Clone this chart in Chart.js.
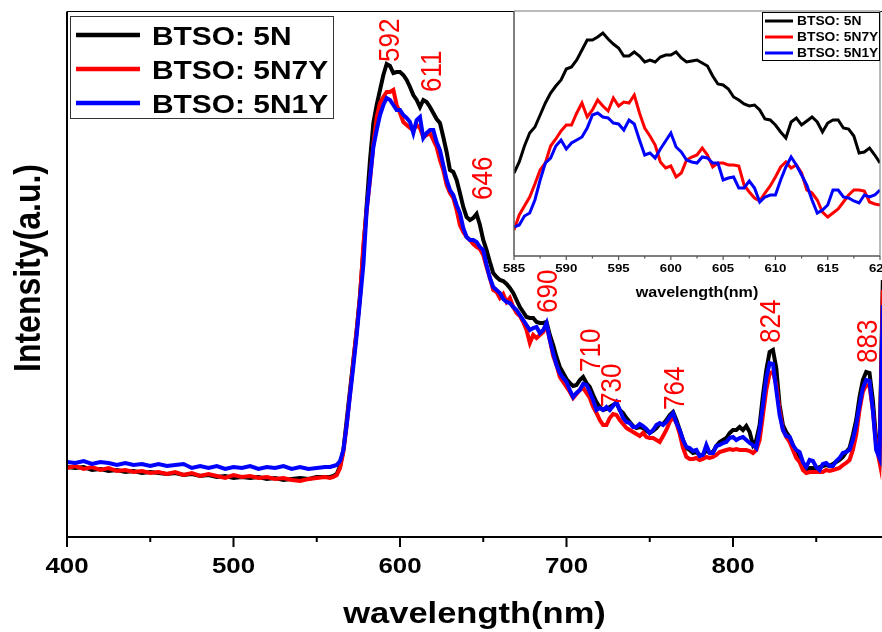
<!DOCTYPE html>
<html>
<head>
<meta charset="utf-8">
<script src="https://cdn.jsdelivr.net/npm/chart.js@4.4.0/dist/chart.umd.min.js"></script>
<style>
  html, body { margin: 0; padding: 0; background: #fff; }
  #wrap { position: relative; width: 882px; height: 632px; overflow: hidden; }
  #mainChart { position: absolute; left: 0; top: 0; }
  #insetChart { position: absolute; left: 500px; top: 0; }
</style>
</head>
<body>
<div id="wrap">
  <canvas id="mainChart" width="882" height="632"></canvas>
  <canvas id="insetChart" width="382" height="310"></canvas>
</div>
<script>
// ---- data (intensity in arbitrary units) ----
const seriesNames = ["BTSO: 5N", "BTSO: 5N7Y", "BTSO: 5N1Y"];
const seriesColors = ["#000000", "#ff0000", "#0000ff"];

const wavelengths = [
  400, 405, 410, 415, 420, 425, 430, 435, 440, 445, 450, 455, 460, 465, 470, 475,
  480, 485, 490, 495, 500, 505, 510, 515, 520, 525, 530, 535, 540, 545, 550, 555,
  558, 560, 562, 564, 566, 568, 570, 572, 574, 576,
  578, 580, 582, 584, 586, 588, 590, 592, 594, 596,
  598, 600, 602, 604, 606, 608, 610, 612, 614, 616,
  618, 620, 622, 624, 626, 628, 630, 632, 634, 636,
  638, 640, 642, 644, 646, 648, 650, 652, 654, 656,
  658, 660, 662, 664, 666, 668, 670, 672, 674, 676,
  678, 680, 682, 684, 686, 688, 690, 692, 694, 696,
  698, 700, 702, 704, 706, 708, 710, 712, 714, 716,
  718, 720, 722, 724, 726, 728, 730, 732, 734, 736,
  738, 740, 742, 744, 746, 748, 750, 752, 754, 756,
  758, 760, 762, 764, 766, 768, 770, 772, 774, 776,
  778, 780, 782, 784, 786, 788, 790, 792, 794, 796,
  798, 800, 802, 804, 806, 808, 810, 812, 814, 816,
  818, 820, 822, 824, 826, 828, 830, 832, 834, 836,
  838, 840, 842, 844, 846, 848, 850, 852, 854, 856,
  858, 860, 862, 864, 866, 868, 870, 872, 874, 876,
  878, 880, 882, 884, 886, 888, 890
];

const int5N = [
  70, 69, 70, 67, 68, 66, 67, 65, 66, 64, 65, 64, 63, 64, 62, 63,
  61, 62, 60, 61, 59, 60, 59, 60, 58, 59, 57, 58, 59, 58, 60, 60,
  60, 61, 63, 71, 87, 117, 147, 177, 207, 242,
  287, 332, 377, 414, 432, 447, 462, 473, 471, 464,
  465, 465, 462, 457, 450, 442, 437, 430, 437, 435,
  430, 424, 418, 414, 400, 385, 367, 365, 357, 344,
  330, 320, 317, 319, 323, 312, 297, 287, 275, 264,
  260, 257, 256, 253, 249, 244, 237, 230, 225, 220,
  219, 219, 215, 214, 214, 215, 202, 192, 180, 170,
  164, 158, 154, 151, 152, 157, 160, 154, 150, 142,
  135, 130, 127, 128, 130, 132, 134, 127, 124, 119,
  115, 111, 109, 110, 109, 106, 104, 106, 109, 113,
  113, 117, 122, 125, 117, 107, 97, 89, 87, 84,
  85, 82, 82, 87, 84, 85, 91, 95, 97, 99,
  104, 107, 107, 110, 107, 111, 105, 92, 97, 112,
  142, 167, 185, 187, 169, 132, 112, 105, 100, 92,
  85, 81, 72, 67, 69, 69, 68, 70, 71, 72,
  71, 73, 75, 77, 80, 85, 89, 102, 117, 140,
  157, 165, 164, 137, 97, 82, 257
];

const int5N7Y = [
  69, 71, 68, 70, 67, 69, 66, 67, 65, 66, 64, 65, 63, 65, 62, 64,
  61, 63, 61, 59, 62, 60, 61, 59, 60, 58, 59, 57, 56, 58, 59, 60,
  59, 60, 62, 69, 85, 112, 144, 175, 207, 240,
  292, 327, 357, 392, 420, 434, 440, 445, 445, 447,
  432, 424, 415, 412, 409, 407, 412, 409, 400, 402,
  404, 397, 390, 377, 367, 352, 344, 339, 327, 312,
  305, 300, 297, 293, 290, 288, 282, 270, 259, 247,
  245, 239, 243, 235, 239, 230, 224, 221, 215, 207,
  194, 202, 199, 202, 205, 212, 197, 181, 172, 160,
  155, 150, 145, 139, 143, 147, 149, 144, 139, 130,
  124, 117, 112, 112, 119, 123, 122, 117, 113, 109,
  107, 105, 103, 101, 104, 100, 99, 99, 97, 95,
  101, 107, 115, 120, 114, 103, 89, 80, 78, 78,
  79, 77, 78, 80, 79, 80, 82, 85, 86, 87,
  88, 87, 88, 87, 87, 87, 86, 84, 87, 97,
  122, 147, 164, 165, 152, 127, 107, 100, 95, 87,
  79, 75, 67, 64, 65, 65, 65, 65, 65, 67,
  66, 67, 68, 69, 72, 74, 77, 87, 102, 127,
  145, 152, 151, 127, 92, 75, 247
];

const int5N1Y = [
  75, 74, 76, 73, 75, 74, 72, 74, 72, 73, 71, 73, 71, 72, 73, 69,
  71, 69, 71, 68, 70, 69, 71, 68, 70, 69, 71, 68, 70, 68, 69, 70,
  70, 71, 72, 76, 87, 112, 142, 171, 202, 237,
  272, 327, 359, 390, 407, 422, 432, 439, 437, 432,
  427, 427, 422, 419, 415, 404, 417, 420, 399, 404,
  407, 407, 395, 387, 372, 357, 347, 342, 332, 324,
  309, 300, 297, 297, 295, 290, 287, 272, 259, 250,
  247, 244, 238, 235, 234, 230, 227, 222, 217, 212,
  207, 209, 210, 204, 207, 214, 197, 184, 172, 164,
  159, 155, 147, 140, 144, 147, 153, 152, 145, 137,
  127, 129, 127, 130, 127, 131, 135, 127, 119, 115,
  114, 110, 110, 113, 111, 108, 104, 107, 112, 114,
  112, 115, 120, 124, 114, 107, 97, 90, 89, 86,
  87, 81, 82, 92, 84, 84, 91, 92, 94, 95,
  99, 100, 97, 99, 100, 97, 94, 92, 89, 107,
  132, 159, 174, 173, 147, 122, 107, 101, 100, 92,
  87, 85, 75, 70, 77, 76, 70, 67, 73, 74,
  71, 71, 76, 79, 84, 85, 87, 97, 112, 132,
  149, 157, 156, 127, 87, 79, 232
];

// inset: zoom on the 585-620 nm band
const insetWavelengths = [
  585, 585.5, 586, 586.5, 587, 587.5, 588, 588.5, 589, 589.5,
  590, 590.5, 591, 591.5, 592, 592.5, 593, 593.5, 594, 594.5,
  595, 595.5, 596, 596.5, 597, 597.5, 598, 598.5, 599, 599.5,
  600, 600.5, 601, 601.5, 602, 602.5, 603, 603.5, 604, 604.5,
  605, 605.5, 606, 606.5, 607, 607.5, 608, 608.5, 609, 609.5,
  610, 610.5, 611, 611.5, 612, 612.5, 613, 613.5, 614, 614.5,
  615, 615.5, 616, 616.5, 617, 617.5, 618, 618.5, 619, 619.5, 620
];
const inset5N = [
  83, 94, 110, 123, 129, 141, 153, 163, 170, 176,
  187, 189, 196, 206, 216, 216, 219, 223, 217, 212,
  208, 200, 200, 204, 200, 194, 196, 194, 199, 201,
  201, 204, 198, 194, 195, 196, 193, 190, 180, 172,
  171, 167, 159, 156, 152, 150, 151, 146, 137, 136,
  131, 124, 118, 134, 138, 131, 135, 139, 134, 124,
  133, 136, 136, 128, 127, 120, 103, 104, 108, 101, 93
];
const inset5N7Y = [
  26, 41, 50, 59, 72, 86, 93, 110, 117, 125,
  131, 131, 143, 153, 139, 146, 156, 150, 145, 158,
  150, 154, 153, 161, 143, 128, 120, 111, 94, 88,
  90, 79, 83, 96, 99, 101, 108, 101, 89, 93,
  93, 91, 91, 90, 71, 64, 58, 55, 63, 70,
  79, 89, 94, 88, 91, 83, 66, 63, 56, 44,
  39, 43, 47, 54, 61, 66, 66, 65, 54, 52, 51
];
const inset5N1Y = [
  29, 31, 40, 43, 56, 76, 93, 98, 110, 116,
  107, 113, 116, 119, 128, 141, 143, 139, 138, 133,
  132, 126, 136, 132, 116, 101, 103, 98, 107, 115,
  123, 109, 104, 96, 94, 93, 99, 98, 93, 93,
  76, 78, 79, 68, 68, 75, 68, 54, 59, 61,
  61, 76, 89, 99, 91, 81, 71, 56, 43, 46,
  51, 66, 66, 59, 58, 55, 53, 61, 59, 61, 66
];

// peak annotations: label text and where the label sits (nm, intensity)
const peakLabels = ["592", "611", "646", "690", "710", "730", "764", "824", "883"];
const peakLabelX = [592.8, 618.0, 648.6, 687.7, 713.5, 726.1, 764.0, 821.6, 879.9];
const peakLabelY = [475, 445, 337, 224, 165, 130, 127, 194, 174];

const mainTicks = [400, 500, 600, 700, 800];
const insetTicks = [585, 590, 595, 600, 605, 610, 615, 620];

// ---- drawing helpers ----
const FONT = '"Liberation Sans", Arial, sans-serif';
const STRETCH = 1.15;

function drawText(ctx, text, x, y, opts) {
  ctx.save();
  ctx.translate(x, y);
  ctx.scale(STRETCH, 1);
  if (opts.rotate) ctx.rotate(opts.rotate);
  ctx.font = opts.font;
  ctx.fillStyle = opts.color || "#000";
  ctx.textAlign = opts.align || "left";
  ctx.textBaseline = "alphabetic";
  ctx.fillText(text, 0, 0);
  ctx.restore();
}

function line(ctx, x1, y1, x2, y2, color, width) {
  ctx.save();
  ctx.strokeStyle = color;
  ctx.lineWidth = width;
  ctx.beginPath();
  ctx.moveTo(x1, y1);
  ctx.lineTo(x2, y2);
  ctx.stroke();
  ctx.restore();
}

function toPoints(xs, ys) {
  return xs.map((x, i) => ({ x: x, y: ys[i] }));
}

function makeDatasets(xs, seriesList, width) {
  return seriesList.map((ys, i) => ({
    label: seriesNames[i],
    data: toPoints(xs, ys),
    borderColor: seriesColors[i],
    borderWidth: width,
    pointRadius: 0,
    tension: 0,
    fill: false,
    order: 3 - i,
  }));
}

// ---- main chart ----
const mainFrame = {
  id: "mainFrame",
  afterDraw(chart) {
    const ctx = chart.ctx;
    const a = chart.chartArea;
    const xs = chart.scales.x;
    const ys = chart.scales.y;

    // frame
    line(ctx, a.left, a.top - 0.5, a.left, a.bottom, "#000", 2);
    line(ctx, a.left - 1, a.bottom, a.right, a.bottom, "#000", 2);
    line(ctx, a.left, a.top - 0.5, a.right, a.top - 0.5, "#000", 1.2);

    // ticks
    for (let v = 400; v <= 850; v += 50) {
      const px = xs.getPixelForValue(v);
      const len = v % 100 === 0 ? 10 : 5;
      line(ctx, px, a.bottom, px, a.bottom + len, "#000", 2);
    }
    mainTicks.forEach((v) => {
      drawText(ctx, String(v), xs.getPixelForValue(v), 573, {
        font: "bold 22.5px " + FONT, align: "center",
      });
    });

    // axis titles
    drawText(ctx, "wavelength(nm)", (a.left + a.right) / 2, 623, {
      font: "bold 30px " + FONT, align: "center",
    });
    drawText(ctx, "Intensity(a.u.)", 40, 268, {
      font: "bold 32px " + FONT, align: "center", rotate: -Math.PI / 2,
    });

    // peak labels
    peakLabels.forEach((t, i) => {
      const px = xs.getPixelForValue(peakLabelX[i]);
      const py = ys.getPixelForValue(peakLabelY[i]);
      drawText(ctx, t, px + 10.7, py, {
        font: "26px " + FONT, color: "#ff0000", align: "left", rotate: -Math.PI / 2,
      });
    });

    // legend
    ctx.save();
    ctx.fillStyle = "#fff";
    ctx.fillRect(70.5, 16.5, 263, 102);
    ctx.strokeStyle = "#333";
    ctx.lineWidth = 1;
    ctx.strokeRect(70.5, 16.5, 263, 102);
    ctx.restore();
    seriesNames.forEach((name, i) => {
      const cy = 35 + i * 34;
      line(ctx, 76, cy, 140, cy, seriesColors[i], 4.5);
      drawText(ctx, name, 152, cy + 9.5, { font: "bold 26px " + FONT });
    });
  },
};

new Chart(document.getElementById("mainChart"), {
  type: "line",
  data: { datasets: makeDatasets(wavelengths, [int5N, int5N7Y, int5N1Y], 4) },
  options: {
    responsive: false,
    animation: false,
    devicePixelRatio: 1,
    layout: { padding: { left: 67, top: 12, right: 0, bottom: 95 } },
    plugins: { legend: { display: false }, tooltip: { enabled: false } },
    scales: {
      x: { type: "linear", min: 400, max: 889.5, display: false },
      y: { min: 0, max: 525, display: false },
    },
  },
  plugins: [mainFrame],
});

// ---- inset chart ----
const insetFrame = {
  id: "insetFrame",
  beforeDatasetsDraw(chart) {
    const ctx = chart.ctx;
    const a = chart.chartArea;
    ctx.save();
    ctx.fillStyle = "#fff";
    ctx.fillRect(a.left, a.top, a.right - a.left, a.bottom - a.top);
    ctx.restore();
  },
  afterDraw(chart) {
    const ctx = chart.ctx;
    const a = chart.chartArea;
    const xs = chart.scales.x;

    line(ctx, a.left, a.top, a.left, a.bottom, "#555", 1.5);
    line(ctx, a.left, a.bottom, a.right, a.bottom, "#555", 1.5);
    line(ctx, a.left, a.top, a.right, a.top, "#777", 1);
    line(ctx, a.right, a.top, a.right, a.bottom, "#777", 1);

    for (let v = 585; v <= 620; v += 2.5) {
      const px = xs.getPixelForValue(v);
      const len = v % 5 === 0 ? 4 : 2.5;
      line(ctx, px, a.bottom, px, a.bottom + len, "#555", 1.2);
    }
    insetTicks.forEach((v) => {
      drawText(ctx, String(v), xs.getPixelForValue(v), 272, {
        font: "bold 11.5px " + FONT, align: "center",
      });
    });
    drawText(ctx, "wavelength(nm)", (a.left + a.right) / 2, 297, {
      font: "bold 14px " + FONT, align: "center",
    });

    // legend
    ctx.save();
    ctx.fillStyle = "#fff";
    ctx.fillRect(262.5, 12.5, 117, 48);
    ctx.strokeStyle = "#000";
    ctx.lineWidth = 1;
    ctx.strokeRect(262.5, 12.5, 117, 48);
    ctx.restore();
    seriesNames.forEach((name, i) => {
      const cy = 21 + i * 16;
      line(ctx, 265, cy, 293, cy, seriesColors[i], 3);
      drawText(ctx, name, 297, cy + 4.3, { font: "bold 12px " + FONT });
    });
  },
};

new Chart(document.getElementById("insetChart"), {
  type: "line",
  data: { datasets: makeDatasets(insetWavelengths, [inset5N, inset5N7Y, inset5N1Y], 3) },
  options: {
    responsive: false,
    animation: false,
    devicePixelRatio: 1,
    layout: { padding: { left: 14, top: 11, right: 2, bottom: 54 } },
    plugins: { legend: { display: false }, tooltip: { enabled: false } },
    scales: {
      x: { type: "linear", min: 585, max: 620, display: false },
      y: { min: 0, max: 245, display: false },
    },
  },
  plugins: [insetFrame],
});
</script>
</body>
</html>
